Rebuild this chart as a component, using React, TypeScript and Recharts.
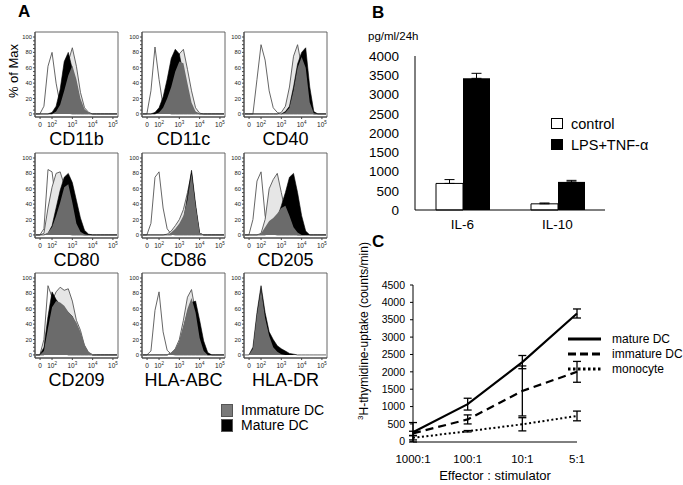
import {
  AreaChart,
  Area,
  XAxis,
  YAxis,
  ReferenceArea,
  BarChart,
  Bar,
  ErrorBar,
  Legend,
  LineChart,
  Line,
} from "recharts"

const FONT = "'Liberation Sans', Arial, Helvetica, sans-serif"

// ---------- A: flow cytometry histograms ----------
// x is the position on the logicle axis in decades (10^2 -> 2), y is % of max
const DECADES = [1.2, 1.4, 1.6, 1.8, 2.0, 2.2, 2.4, 2.6, 2.8, 3.0, 3.2, 3.4, 3.6, 3.8, 4.0, 4.2, 4.4, 4.6, 4.8, 5.0, 5.2]
const DECADE_TICKS = [1.41, 2, 3, 4, 5]
const DECADE_LABELS = ["0", "2", "3", "4", "5"]
const PCT_TICKS = [0, 5, 10, 15, 20, 25, 30, 35, 40, 45, 50, 55, 60, 65, 70, 75, 80, 85, 90, 95, 100]
const MARKERS = ["CD11b", "CD11c", "CD40", "CD80", "CD86", "CD205", "CD209", "HLA-ABC", "HLA-DR"]

const CD11B_ISO = [0, 0, 10, 62, 80, 40, 12, 4, 1, 0, 0, 0, 0, 0, 0, 0, 0, 0, 0, 0, 0]
const CD11B_MONO = [0, 0, 0, 0, 0, 3, 12, 40, 68, 86, 62, 28, 8, 2, 0, 0, 0, 0, 0, 0, 0]
const CD11B_MAT = [0, 0, 0, 0, 2, 10, 32, 68, 80, 58, 35, 12, 4, 1, 0, 0, 0, 0, 0, 0, 0]
const CD11B_IMM = [0, 0, 0, 0, 0, 3, 12, 30, 50, 63, 45, 20, 6, 2, 0, 0, 0, 0, 0, 0, 0]

const CD11C_ISO = [0, 0, 30, 87, 45, 10, 2, 0, 0, 0, 0, 0, 0, 0, 0, 0, 0, 0, 0, 0, 0]
const CD11C_MONO = [0, 0, 0, 0, 2, 8, 22, 40, 65, 78, 84, 58, 30, 8, 1, 0, 0, 0, 0, 0, 0]
const CD11C_MAT = [0, 0, 0, 2, 8, 22, 45, 72, 84, 78, 50, 25, 8, 2, 0, 0, 0, 0, 0, 0, 0]
const CD11C_IMM = [0, 0, 0, 0, 2, 8, 20, 35, 55, 68, 66, 40, 15, 3, 0, 0, 0, 0, 0, 0, 0]

const CD40_ISO = [0, 0, 0, 45, 90, 70, 30, 8, 2, 0, 0, 0, 0, 0, 0, 0, 0, 0, 0, 0, 0]
const CD40_MONO = [0, 0, 0, 0, 0, 0, 0, 0, 0, 2, 10, 35, 75, 90, 62, 20, 3, 0, 0, 0, 0]
const CD40_MAT = [0, 0, 0, 0, 0, 0, 0, 0, 0, 0, 3, 10, 35, 65, 80, 86, 35, 3, 0, 0, 0]
const CD40_IMM = [0, 0, 0, 0, 0, 0, 0, 0, 0, 0, 2, 8, 30, 60, 74, 60, 15, 1, 0, 0, 0]

const CD80_ISO = [0, 0, 8, 85, 82, 40, 10, 3, 1, 0, 0, 0, 0, 0, 0, 0, 0, 0, 0, 0, 0]
const CD80_MONO = [0, 0, 2, 35, 62, 80, 82, 65, 45, 20, 5, 1, 0, 0, 0, 0, 0, 0, 0, 0, 0]
const CD80_MAT = [0, 0, 0, 2, 12, 35, 58, 75, 80, 68, 45, 22, 6, 1, 0, 0, 0, 0, 0, 0, 0]
const CD80_IMM = [0, 0, 0, 3, 10, 25, 42, 62, 66, 42, 15, 4, 1, 0, 0, 0, 0, 0, 0, 0, 0]

const CD86_ISO = [0, 0, 15, 75, 82, 35, 8, 1, 0, 0, 0, 0, 0, 0, 0, 0, 0, 0, 0, 0, 0]
const CD86_MONO = [0, 0, 0, 0, 0, 0, 1, 5, 12, 20, 33, 55, 80, 35, 2, 0, 0, 0, 0, 0, 0]
const CD86_MAT = [0, 0, 0, 0, 0, 0, 0, 0, 3, 8, 18, 50, 84, 40, 2, 0, 0, 0, 0, 0, 0]
const CD86_IMM = [0, 0, 0, 0, 0, 0, 0, 3, 8, 15, 25, 45, 80, 38, 3, 0, 0, 0, 0, 0, 0]

const CD205_ISO = [0, 0, 20, 70, 82, 25, 5, 1, 0, 0, 0, 0, 0, 0, 0, 0, 0, 0, 0, 0, 0]
const CD205_MONO = [0, 0, 0, 0, 2, 20, 60, 72, 80, 55, 30, 10, 2, 0, 0, 0, 0, 0, 0, 0, 0]
const CD205_MAT = [0, 0, 0, 0, 0, 0, 3, 10, 22, 38, 55, 75, 80, 55, 25, 5, 0, 0, 0, 0, 0]
const CD205_IMM = [0, 0, 0, 0, 2, 10, 18, 22, 28, 35, 38, 25, 10, 3, 0, 0, 0, 0, 0, 0, 0]

const CD209_ISO = [0, 0, 20, 90, 75, 40, 10, 2, 0, 0, 0, 0, 0, 0, 0, 0, 0, 0, 0, 0, 0]
const CD209_MONO = [0, 0, 0, 40, 70, 82, 88, 84, 86, 70, 45, 32, 12, 3, 0, 0, 0, 0, 0, 0, 0]
const CD209_MAT = [0, 0, 10, 50, 82, 72, 65, 60, 55, 50, 38, 22, 8, 2, 0, 0, 0, 0, 0, 0, 0]
const CD209_IMM = [0, 0, 5, 35, 62, 70, 68, 64, 56, 50, 42, 30, 14, 4, 1, 0, 0, 0, 0, 0, 0]

const HLAABC_ISO = [0, 0, 5, 58, 82, 30, 6, 1, 0, 0, 0, 0, 0, 0, 0, 0, 0, 0, 0, 0, 0]
const HLAABC_MONO = [0, 0, 0, 0, 0, 0, 0, 2, 8, 20, 45, 75, 85, 55, 20, 3, 0, 0, 0, 0, 0]
const HLAABC_MAT = [0, 0, 0, 0, 0, 0, 0, 2, 6, 15, 35, 55, 68, 70, 45, 18, 3, 0, 0, 0, 0]
const HLAABC_IMM = [0, 0, 0, 0, 0, 0, 1, 3, 8, 18, 38, 60, 74, 55, 22, 5, 0, 0, 0, 0, 0]

const HLADR_MAT = [0, 0, 10, 55, 90, 55, 30, 20, 12, 8, 5, 2, 1, 0, 0, 0, 0, 0, 0, 0, 0]
const HLADR_IMM = [0, 0, 8, 52, 85, 48, 25, 10, 4, 1, 0, 0, 0, 0, 0, 0, 0, 0, 0, 0, 0]

type Hist = { iso?: number[]; mono?: number[]; mature: number[]; immature: number[] }

const HISTS: Hist[] = [
  { iso: CD11B_ISO, mono: CD11B_MONO, mature: CD11B_MAT, immature: CD11B_IMM },
  { iso: CD11C_ISO, mono: CD11C_MONO, mature: CD11C_MAT, immature: CD11C_IMM },
  { iso: CD40_ISO, mono: CD40_MONO, mature: CD40_MAT, immature: CD40_IMM },
  { iso: CD80_ISO, mono: CD80_MONO, mature: CD80_MAT, immature: CD80_IMM },
  { iso: CD86_ISO, mono: CD86_MONO, mature: CD86_MAT, immature: CD86_IMM },
  { iso: CD205_ISO, mono: CD205_MONO, mature: CD205_MAT, immature: CD205_IMM },
  { iso: CD209_ISO, mono: CD209_MONO, mature: CD209_MAT, immature: CD209_IMM },
  { iso: HLAABC_ISO, mono: HLAABC_MONO, mature: HLAABC_MAT, immature: HLAABC_IMM },
  { mature: HLADR_MAT, immature: HLADR_IMM },
]

// grid of plot boxes
const BOX_LEFT = [35, 142, 244]
const BOX_TOP = [32, 153, 273]
const BOX_W = 83
const BOX_H = 85
const X_DOMAIN = [1.16, 5.25]
const Y_DOMAIN = [-4, 106.5]

// ---------- B: cytokines ----------
const CYTOKINES = ["IL-6", "IL-10"]
const CONTROL = [690, 160]
const CONTROL_ERR = [100, 22]
const STIMULATED = [3420, 730]
const STIMULATED_ERR = [130, 40]
const B_TICKS = [0, 500, 1000, 1500, 2000, 2500, 3000, 3500, 4000]

// ---------- C: MLR ----------
const RATIOS = ["1000:1", "100:1", "10:1", "5:1"]
const MATURE_DC = [260, 1070, 2280, 3680]
const MATURE_DC_ERR = [280, 170, 190, 130]
const IMMATURE_DC = [230, 630, 1450, 2000]
const IMMATURE_DC_ERR = [60, 130, 720, 300]
const MONOCYTE = [100, 290, 490, 730]
const MONOCYTE_ERR = [60, 20, 190, 140]
const C_TICKS = [0, 500, 1000, 1500, 2000, 2500, 3000, 3500, 4000, 4500]
const RATIO_EDGES = [1, 2, 3, 4]

function DecadeTick({ x, y, payload }: any) {
  const lab = DECADE_LABELS[DECADE_TICKS.indexOf(payload.value)]
  return (
    <text x={x} y={y + 6} textAnchor="middle" fontSize={6.5} fill="#222" fontFamily={FONT}>
      {lab === "0" ? (
        "0"
      ) : (
        <>
          <tspan>10</tspan>
          <tspan dy={-3} fontSize={4.5}>
            {lab}
          </tspan>
        </>
      )}
    </text>
  )
}

function PctTick({ x, y, payload }: any) {
  if (payload.value % 20 !== 0) return <g />
  return (
    <text x={x} y={y} dy={2} textAnchor="end" fontSize={5.8} fill="#222" fontFamily={FONT}>
      {payload.value}
    </text>
  )
}

function Histogram({ name, h, left, top }: { name: string; h: Hist; left: number; top: number }) {
  const rows = DECADES.map((u, i) => ({
    u,
    iso: h.iso?.[i],
    mono: h.mono?.[i],
    mature: h.mature[i],
    immature: h.immature[i],
  }))
  return (
    <>
      <div style={{ position: "absolute", left: left - 22, top: top - 4 }}>
        <AreaChart width={22 + BOX_W + 4} height={4 + BOX_H + 20} data={rows} margin={{ top: 4, right: 4, bottom: 0, left: 0 }}>
          <XAxis
            type="number"
            dataKey="u"
            domain={X_DOMAIN}
            allowDataOverflow
            ticks={DECADE_TICKS}
            interval={0}
            tick={<DecadeTick />}
            tickSize={2}
            height={20}
            stroke="#444"
          />
          <YAxis
            domain={Y_DOMAIN}
            allowDataOverflow
            ticks={PCT_TICKS}
            interval={0}
            tick={<PctTick />}
            tickSize={2}
            tickMargin={1}
            width={22}
            stroke="#444"
          />
          {h.iso && (
            <Area type="linear" dataKey="iso" fill="#fff" fillOpacity={1} stroke="#555" strokeWidth={0.9} dot={false} activeDot={false} isAnimationActive={false} />
          )}
          {h.mono && (
            <Area type="linear" dataKey="mono" fill="#e6e6e6" fillOpacity={1} stroke="#555" strokeWidth={0.9} dot={false} activeDot={false} isAnimationActive={false} />
          )}
          <Area type="linear" dataKey="mature" fill="#000" fillOpacity={1} stroke="#000" strokeWidth={0.6} dot={false} activeDot={false} isAnimationActive={false} />
          <Area type="linear" dataKey="immature" fill="#6b6b6b" fillOpacity={1} stroke="none" dot={false} activeDot={false} isAnimationActive={false} />
          <ReferenceArea x1={X_DOMAIN[0]} x2={X_DOMAIN[1]} y1={Y_DOMAIN[0]} y2={Y_DOMAIN[1]} fill="none" stroke="#555" strokeWidth={0.9} ifOverflow="visible" />
        </AreaChart>
      </div>
      <div
        style={{
          position: "absolute",
          left: left - 10,
          width: BOX_W + 20,
          top: top + BOX_H + 10,
          lineHeight: "24px",
          textAlign: "center",
          fontSize: 18,
        }}
      >
        {name}
      </div>
    </>
  )
}

const BAR_ORDER = ["control", "stim"]

function BarLegend({ payload }: any) {
  const items = [...(payload || [])].sort((a: any, b: any) => BAR_ORDER.indexOf(a.dataKey) - BAR_ORDER.indexOf(b.dataKey))
  return (
    <div style={{ fontFamily: FONT, fontSize: 14.5, color: "#000" }}>
      {items.map((p: any) => (
        <div key={p.value} style={{ display: "flex", alignItems: "center", height: 21 }}>
          <span
            style={{
              display: "inline-block",
              width: 10,
              height: 9,
              border: "1px solid #000",
              background: p.dataKey === "control" ? "#fff" : "#000",
              marginRight: 8,
            }}
          />
          <span>{p.value}</span>
        </div>
      ))}
    </div>
  )
}

const LINE_ORDER = ["mature", "immature", "monocyte"]
const LINE_DASH: Record<string, string | undefined> = {
  mature: undefined,
  immature: "8 4",
  monocyte: "2.5 2.5",
}

function LineLegend({ payload }: any) {
  const items = [...(payload || [])].sort((a: any, b: any) => LINE_ORDER.indexOf(a.dataKey) - LINE_ORDER.indexOf(b.dataKey))
  return (
    <div style={{ fontFamily: FONT, fontSize: 12, color: "#000" }}>
      {items.map((p: any) => (
        <div key={p.value} style={{ display: "flex", alignItems: "center", height: 15 }}>
          <svg width={33} height={6} style={{ marginRight: 11 }}>
            <line x1={0} x2={33} y1={3} y2={3} stroke="#000" strokeWidth={3} strokeDasharray={LINE_DASH[p.dataKey]} />
          </svg>
          <span>{p.value}</span>
        </div>
      ))}
    </div>
  )
}

export default function App() {
  const bRows = CYTOKINES.map((name, i) => ({
    name,
    control: CONTROL[i],
    controlErr: [0, CONTROL_ERR[i]],
    stim: STIMULATED[i],
    stimErr: [0, STIMULATED_ERR[i]],
  }))
  const cRows = RATIOS.map((ratio, i) => ({
    ratio,
    mature: MATURE_DC[i],
    matureErr: MATURE_DC_ERR[i],
    immature: IMMATURE_DC[i],
    immatureErr: IMMATURE_DC_ERR[i],
    monocyte: MONOCYTE[i],
    monocyteErr: MONOCYTE_ERR[i],
  }))

  const abs = (l: number, t: number): React.CSSProperties => ({ position: "absolute", left: l, top: t })

  return (
    <div
      style={{
        position: "absolute",
        left: 0,
        top: 0,
        width: 683,
        height: 485,
        background: "#fff",
        fontFamily: FONT,
        color: "#000",
        overflow: "hidden",
      }}
    >
      {/* panel letters */}
      <div style={{ ...abs(18, 2), fontWeight: "bold", fontSize: 17 }}>A</div>
      <div style={{ ...abs(372, 3), fontWeight: "bold", fontSize: 17 }}>B</div>
      <div style={{ ...abs(372, 232), fontWeight: "bold", fontSize: 17 }}>C</div>

      {/* A */}
      <div
        style={{
          ...abs(-26, 62),
          width: 80,
          height: 18,
          lineHeight: "18px",
          textAlign: "center",
          fontSize: 13,
          transform: "rotate(-90deg)",
        }}
      >
        % of Max
      </div>
      {HISTS.map((h, i) => (
        <Histogram key={MARKERS[i]} name={MARKERS[i]} h={h} left={BOX_LEFT[i % 3]} top={BOX_TOP[Math.floor(i / 3)]} />
      ))}
      <div style={{ ...abs(221, 403), fontSize: 14, lineHeight: "15px" }}>
        <div style={{ display: "flex", alignItems: "center", height: 15 }}>
          <span style={{ display: "inline-block", width: 10, height: 11, background: "#7a7a7a", border: "1px solid #555", marginRight: 8 }} />
          Immature DC
        </div>
        <div style={{ display: "flex", alignItems: "center", height: 15 }}>
          <span style={{ display: "inline-block", width: 10, height: 11, background: "#000", border: "1px solid #555", marginRight: 8 }} />
          Mature DC
        </div>
      </div>

      {/* B */}
      <div style={{ ...abs(368, 30), fontSize: 11.5 }}>pg/ml/24h</div>
      <div style={abs(350, 45)}>
        <BarChart width={333} height={190} data={bRows} margin={{ top: 11, right: 78, bottom: 0, left: 0 }} barSize={27} barGap={0}>
          <XAxis dataKey="name" tickLine={false} tickSize={0} tickMargin={9} height={25} stroke="#000" tick={{ fill: "#000", fontSize: 13.5 }} />
          <YAxis
            domain={[0, 4000]}
            ticks={B_TICKS}
            interval={0}
            width={65}
            tickLine={false}
            tickSize={6}
            tickMargin={10}
            stroke="#000"
            tick={{ fill: "#000", fontSize: 13.5 }}
          />
          <Bar dataKey="control" name="control" fill="#fff" stroke="#000" strokeWidth={1} isAnimationActive={false}>
            <ErrorBar dataKey="controlErr" width={5} stroke="#000" strokeWidth={1} />
          </Bar>
          <Bar dataKey="stim" name="LPS+TNF-α" fill="#000" isAnimationActive={false}>
            <ErrorBar dataKey="stimErr" width={5} stroke="#000" strokeWidth={1} />
          </Bar>
          <Legend layout="vertical" align="center" verticalAlign="middle" wrapperStyle={{ left: 201, top: 68 }} content={<BarLegend />} />
        </BarChart>
      </div>

      {/* C */}
      <div
        style={{
          ...abs(261, 323),
          width: 200,
          height: 16,
          lineHeight: "16px",
          textAlign: "center",
          fontSize: 12,
          transform: "rotate(-90deg)",
          whiteSpace: "nowrap",
        }}
      >
        <sup style={{ fontSize: 8 }}>3</sup>H-thymidine-uptake (counts/min)
      </div>
      <div style={{ ...abs(395, 468), width: 200, textAlign: "center", fontSize: 13 }}>Effector : stimulator</div>
      <div style={abs(350, 270)}>
        <LineChart width={333} height={202} data={cRows} margin={{ top: 15, right: 106, bottom: 0, left: 0 }}>
          <XAxis
            xAxisId="edge"
            type="number"
            domain={[0, RATIOS.length]}
            allowDataOverflow
            ticks={RATIO_EDGES}
            tick={false}
            tickSize={4}
            axisLine={false}
            height={0}
            stroke="#000"
          />
          <XAxis dataKey="ratio" tickLine={false} tickSize={0} tickMargin={13} height={30} stroke="#000" tick={{ fill: "#000", fontSize: 11.5 }} />
          <YAxis
            domain={[0, 4500]}
            ticks={C_TICKS}
            interval={0}
            width={63}
            tickSize={3}
            tickMargin={5}
            stroke="#000"
            tick={{ fill: "#000", fontSize: 10.5 }}
          />
          <Line dataKey="mature" name="mature DC" stroke="#000" strokeWidth={2.2} dot={false} activeDot={false} isAnimationActive={false}>
            <ErrorBar dataKey="matureErr" direction="y" width={4} stroke="#000" strokeWidth={1.3} />
          </Line>
          <Line dataKey="immature" name="immature DC" stroke="#000" strokeWidth={2.2} strokeDasharray="8 5" dot={false} activeDot={false} isAnimationActive={false}>
            <ErrorBar dataKey="immatureErr" direction="y" width={4} stroke="#000" strokeWidth={1.3} />
          </Line>
          <Line dataKey="monocyte" name="monocyte" stroke="#000" strokeWidth={2} strokeDasharray="2 2.5" dot={false} activeDot={false} isAnimationActive={false}>
            <ErrorBar dataKey="monocyteErr" direction="y" width={4} stroke="#000" strokeWidth={1.3} />
          </Line>
          <Legend layout="vertical" align="center" verticalAlign="middle" wrapperStyle={{ left: 218, top: 61 }} content={<LineLegend />} />
        </LineChart>
      </div>
    </div>
  )
}
